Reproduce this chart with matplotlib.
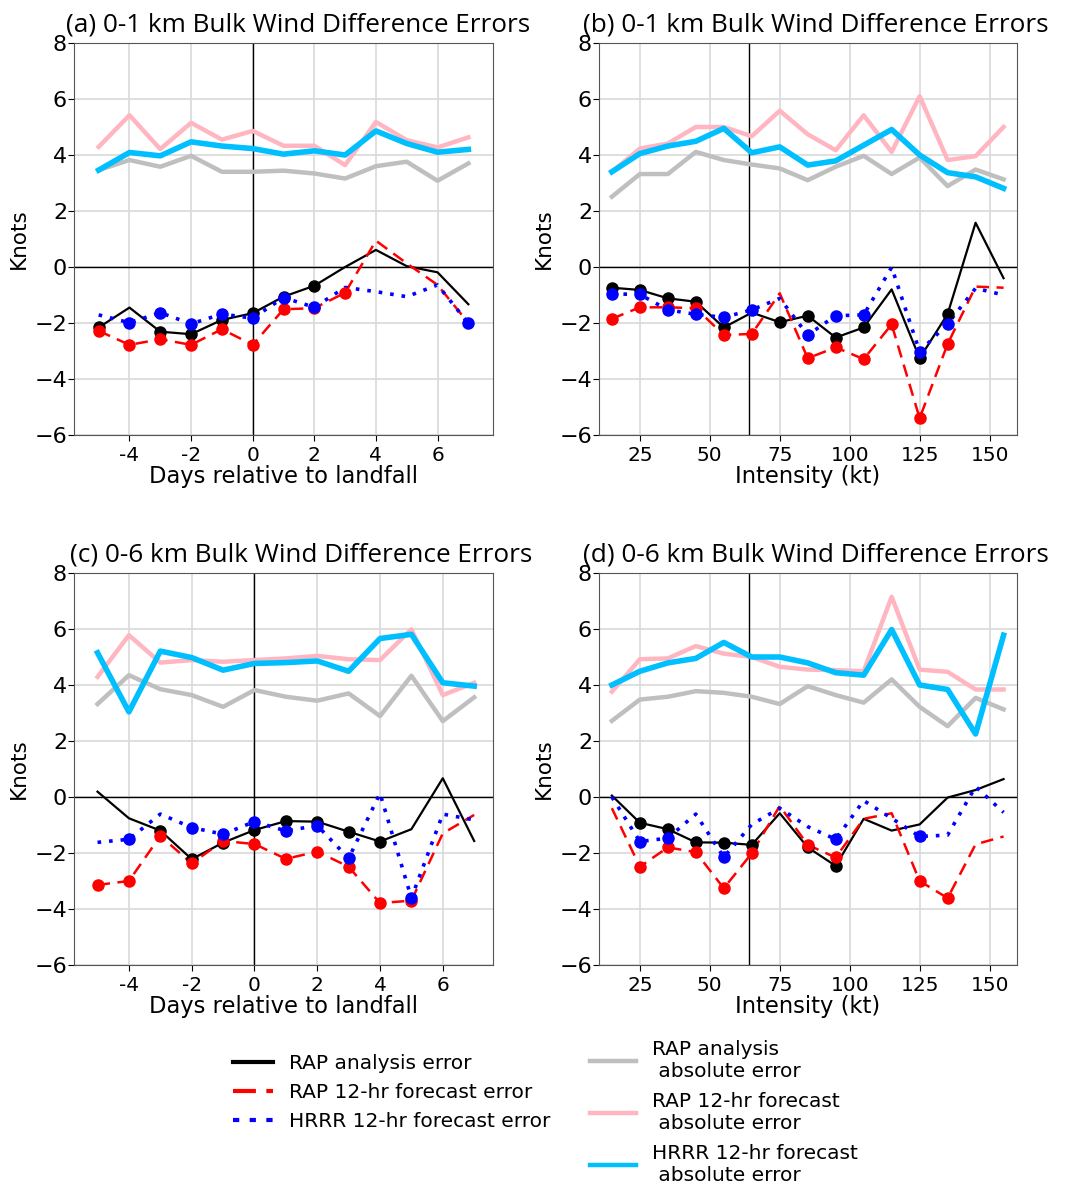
import matplotlib
matplotlib.use("Agg")
import matplotlib.pyplot as plt
from matplotlib.lines import Line2D
from matplotlib.font_manager import FontProperties
import numpy as np

plt.rcParams["font.family"] = ["DejaVu Sans"]

days = [-5, -4, -3, -2, -1, 0, 1, 2, 3, 4, 5, 6, 7]
intensity = [15, 25, 35, 45, 55, 65, 75, 85, 95, 105, 115, 125, 135, 145, 155]

# ---- Panel (a): 0-1 km vs days ----
a_rap_ana = [-2.16, -1.45, -2.31, -2.40, -1.89, -1.65, -1.06, -0.67, 0.0, 0.61, 0.03, -0.19, -1.33]
a_rap_fc = [-2.28, -2.78, -2.58, -2.78, -2.22, -2.78, -1.51, -1.47, -0.92, 0.94, 0.13, -0.64, -2.0]
a_hrrr_fc = [-1.71, -1.99, -1.63, -2.03, -1.68, -1.83, -1.09, -1.44, -0.73, -0.88, -1.06, -0.64, -2.01]
a_rap_ana_abs = [3.46, 3.82, 3.58, 3.97, 3.40, 3.40, 3.44, 3.34, 3.16, 3.60, 3.76, 3.08, 3.70]
a_rap_fc_abs = [4.29, 5.42, 4.21, 5.15, 4.55, 4.86, 4.33, 4.33, 3.64, 5.18, 4.53, 4.27, 4.63]
a_hrrr_fc_abs = [3.46, 4.09, 3.97, 4.47, 4.32, 4.23, 4.03, 4.15, 4.00, 4.86, 4.41, 4.10, 4.20]
a_sig_ana = [1, 0, 1, 1, 1, 1, 1, 1, 0, 0, 0, 0, 0]
a_sig_rap = [1, 1, 1, 1, 1, 1, 1, 1, 1, 0, 0, 0, 0]
a_sig_hrrr = [0, 1, 1, 1, 1, 1, 1, 1, 0, 0, 0, 0, 1]

# ---- Panel (b): 0-1 km vs intensity ----
b_rap_ana = [-0.74, -0.82, -1.12, -1.24, -2.16, -1.63, -1.97, -1.74, -2.52, -2.16, -0.80, -3.26, -1.68, 1.58, -0.40]
b_rap_fc = [-1.85, -1.44, -1.44, -1.47, -2.43, -2.39, -0.94, -3.26, -2.87, -3.29, -2.05, -5.40, -2.75, -0.70, -0.74]
b_hrrr_fc = [-0.96, -0.98, -1.53, -1.69, -1.80, -1.53, -1.12, -2.43, -1.74, -1.71, -0.01, -3.02, -2.03, -0.76, -1.00]
b_rap_ana_abs = [2.51, 3.32, 3.32, 4.11, 3.82, 3.66, 3.52, 3.10, 3.58, 3.97, 3.32, 3.91, 2.89, 3.48, 3.13]
b_rap_fc_abs = [3.40, 4.23, 4.41, 5.00, 5.00, 4.67, 5.58, 4.74, 4.17, 5.42, 4.11, 6.10, 3.82, 3.96, 5.00]
b_hrrr_fc_abs = [3.40, 4.05, 4.32, 4.49, 4.95, 4.08, 4.29, 3.64, 3.79, 4.35, 4.91, 4.00, 3.37, 3.22, 2.81]
b_sig_ana = [1, 1, 1, 1, 1, 0, 1, 1, 1, 1, 0, 1, 1, 0, 0]
b_sig_rap = [1, 1, 1, 1, 1, 1, 0, 1, 1, 1, 1, 1, 1, 0, 0]
b_sig_hrrr = [1, 1, 1, 1, 1, 1, 0, 1, 1, 1, 0, 1, 1, 0, 0]

# ---- Panel (c): 0-6 km vs days ----
c_rap_ana = [0.19, -0.76, -1.20, -2.22, -1.63, -1.18, -0.86, -0.88, -1.24, -1.59, -1.15, 0.67, -1.57]
c_rap_fc = [-3.14, -3.00, -1.39, -2.37, -1.57, -1.68, -2.21, -1.95, -2.49, -3.79, -3.70, -1.30, -0.64]
c_hrrr_fc = [-1.62, -1.51, -0.61, -1.09, -1.33, -0.88, -1.21, -1.02, -2.19, 0.13, -3.61, -0.61, -0.82]
c_rap_ana_abs = [3.32, 4.35, 3.85, 3.64, 3.22, 3.82, 3.58, 3.44, 3.70, 2.89, 4.33, 2.71, 3.56]
c_rap_fc_abs = [4.29, 5.78, 4.80, 4.89, 4.83, 4.89, 4.95, 5.04, 4.92, 4.89, 5.99, 3.64, 4.08]
c_hrrr_fc_abs = [5.15, 3.04, 5.21, 4.98, 4.53, 4.77, 4.80, 4.86, 4.49, 5.66, 5.81, 4.08, 3.96]
c_sig_ana = [0, 0, 1, 1, 1, 1, 1, 1, 1, 1, 0, 0, 0]
c_sig_rap = [1, 1, 1, 1, 1, 1, 1, 1, 1, 1, 1, 0, 0]
c_sig_hrrr = [0, 1, 0, 1, 1, 1, 1, 1, 1, 0, 1, 0, 0]

# ---- Panel (d): 0-6 km vs intensity ----
d_rap_ana = [0.05, -0.92, -1.15, -1.62, -1.63, -1.71, -0.58, -1.80, -2.46, -0.78, -1.20, -0.98, -0.02, 0.25, 0.64]
d_rap_fc = [-0.40, -2.49, -1.80, -1.97, -3.26, -2.01, -0.32, -1.71, -2.16, -0.78, -0.58, -3.00, -3.61, -1.69, -1.41]
d_hrrr_fc = [0.00, -1.59, -1.47, -0.61, -2.15, -0.98, -0.40, -1.06, -1.51, -0.13, -0.76, -1.41, -1.36, 0.37, -0.55]
d_rap_ana_abs = [2.72, 3.48, 3.58, 3.78, 3.72, 3.58, 3.32, 3.96, 3.64, 3.37, 4.20, 3.22, 2.53, 3.54, 3.13]
d_rap_fc_abs = [3.76, 4.92, 4.95, 5.39, 5.12, 5.00, 4.65, 4.55, 4.53, 4.49, 7.15, 4.55, 4.47, 3.84, 3.84]
d_hrrr_fc_abs = [4.00, 4.49, 4.79, 4.95, 5.52, 5.00, 5.00, 4.79, 4.44, 4.35, 5.98, 4.00, 3.84, 2.25, 5.78]
d_sig_ana = [0, 1, 1, 1, 1, 1, 0, 1, 1, 0, 0, 0, 0, 0, 0]
d_sig_rap = [0, 1, 1, 1, 1, 1, 0, 1, 1, 0, 0, 1, 1, 0, 0]
d_sig_hrrr = [0, 1, 1, 0, 1, 0, 0, 0, 1, 0, 0, 1, 0, 0, 0]

titles = ["(a) 0-1 km Bulk Wind Difference Errors",
          "(b) 0-1 km Bulk Wind Difference Errors",
          "(c) 0-6 km Bulk Wind Difference Errors",
          "(d) 0-6 km Bulk Wind Difference Errors"]
xlabels = ["Days relative to landfall", "Intensity (kt)"]
day_ticks = [-4, -2, 0, 2, 4, 6]
day_ticklabels = ["-4", "-2", "0", "2", "4", "6"]
int_ticks = [25, 50, 75, 100, 125, 150]
y_ticks = [-6, -4, -2, 0, 2, 4, 6, 8]
legend_left = ["RAP analysis error", "RAP 12-hr forecast error", "HRRR 12-hr forecast error"]
legend_right = ["RAP analysis\n absolute error", "RAP 12-hr forecast\n absolute error",
                "HRRR 12-hr forecast\n absolute error"]

PINK = "#ffb6c1"
GRAY = "#bfbfbf"
CYAN = "#00bfff"

panels = [
    (days, a_rap_ana, a_rap_fc, a_hrrr_fc, a_rap_ana_abs, a_rap_fc_abs, a_hrrr_fc_abs, a_sig_ana, a_sig_rap, a_sig_hrrr),
    (intensity, b_rap_ana, b_rap_fc, b_hrrr_fc, b_rap_ana_abs, b_rap_fc_abs, b_hrrr_fc_abs, b_sig_ana, b_sig_rap, b_sig_hrrr),
    (days, c_rap_ana, c_rap_fc, c_hrrr_fc, c_rap_ana_abs, c_rap_fc_abs, c_hrrr_fc_abs, c_sig_ana, c_sig_rap, c_sig_hrrr),
    (intensity, d_rap_ana, d_rap_fc, d_hrrr_fc, d_rap_ana_abs, d_rap_fc_abs, d_hrrr_fc_abs, d_sig_ana, d_sig_rap, d_sig_hrrr),
]

W, H = 1066, 1183
fig = plt.figure(figsize=(W / 100, H / 100), dpi=100)

boxes = [(74, 43, 493, 435), (599, 43, 1017, 435), (74, 573, 493, 965), (599, 573, 1017, 965)]
xlims = [(-5.8, 7.8), (10.4, 159.8), (-5.75, 7.6), (10.4, 159.8)]
title_pos = [(66, 32), (583, 32), (70, 562), (583, 562)]
title_font = FontProperties(family="Open Sans", size=18.8)

for i, (box, p) in enumerate(zip(boxes, panels)):
    l, t, r, b = box
    ax = fig.add_axes([l / W, 1 - b / H, (r - l) / W, (b - t) / H])
    x, ana, fc, hr, ana_abs, fc_abs, hr_abs, s_ana, s_fc, s_hr = p
    x = np.asarray(x, dtype=float)
    ax.plot(x, ana_abs, color=GRAY, lw=3.2, zorder=3)
    ax.plot(x, fc_abs, color=PINK, lw=3.2, zorder=3)
    ax.plot(x, hr_abs, color=CYAN, lw=4.0, zorder=3)
    ax.plot(x, ana, color="black", lw=1.6, zorder=4)
    ax.plot(x, fc, color="red", lw=1.8, ls=(0, (5, 3)), zorder=4)
    ax.plot(x, hr, color="blue", lw=2.6, ls=(0, (1, 2.2)), zorder=4)
    for vals, sig, col in ((ana, s_ana, "black"), (fc, s_fc, "red"), (hr, s_hr, "blue")):
        m = np.asarray(sig, dtype=bool)
        ax.plot(x[m], np.asarray(vals)[m], ls="none", marker="o", ms=8, color=col, zorder=5)
    ax.axhline(0, color="black", lw=1.0, zorder=2)
    if i % 2 == 0:
        ax.axvline(0, color="black", lw=1.0, zorder=2)
        ax.set_xticks(day_ticks)
        ax.set_xticklabels(day_ticklabels)
        ax.set_xlabel(xlabels[0], fontsize=16.3, labelpad=0)
    else:
        ax.axvline(64, color="black", lw=1.0, zorder=2)
        ax.set_xticks(int_ticks)
        ax.set_xlabel(xlabels[1], fontsize=16.3, labelpad=0)
    ax.set_xlim(*xlims[i])
    ax.set_ylim(-6, 8)
    ax.set_yticks(y_ticks)
    ax.set_yticklabels(["\u2212%d" % -v if v < 0 else "%d" % v for v in y_ticks])
    ax.set_ylabel("Knots", fontsize=15.5, labelpad=4)
    ax.grid(True, color="#d9d9d9", lw=1.2, zorder=0)
    ax.set_axisbelow(True)
    ax.tick_params(axis="x", labelsize=14.5, length=4, pad=4)
    ax.tick_params(axis="y", labelsize=16, length=4, pad=1)
    for sp in ax.spines.values():
        sp.set_color("#555555")
    tx, ty = title_pos[i]
    fig.text(tx / W, 1 - ty / H, titles[i], fontproperties=title_font,
             ha="left", va="baseline")

h_left = [Line2D([], [], color="black", lw=3),
          Line2D([], [], color="red", lw=3, ls=(0, (5.5, 2.5))),
          Line2D([], [], color="blue", lw=3, ls=(0, (1.5, 2.5)))]
h_right = [Line2D([], [], color=GRAY, lw=3.2),
           Line2D([], [], color=PINK, lw=3.2),
           Line2D([], [], color=CYAN, lw=3.2)]

fig.legend(h_left, legend_left, loc="upper left", bbox_to_anchor=(215 / W, 1 - 1036 / H),
           frameon=False, prop=FontProperties(family="DejaVu Sans", size=14.5),
           handlelength=2.0, labelspacing=0.5, handletextpad=0.75)
fig.legend(h_right, legend_right, loc="upper left", bbox_to_anchor=(572 / W, 1 - 1022 / H),
           frameon=False, prop=FontProperties(family="DejaVu Sans", size=14.5),
           handlelength=2.3, labelspacing=0.55, handletextpad=0.75)

fig.savefig("out.png", dpi=100)
